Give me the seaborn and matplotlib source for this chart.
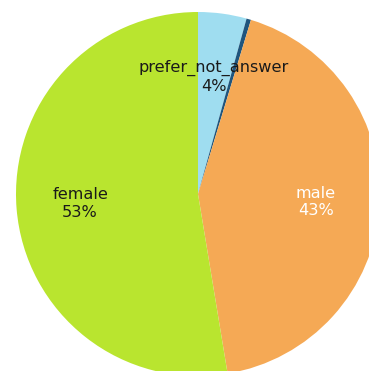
import matplotlib
matplotlib.use("Agg")
import matplotlib.pyplot as plt
import seaborn as sns

# Gender breakdown of respondents
categories = ["prefer_not_answer", "other", "male", "female"]
shares = [4.3, 0.4, 42.7, 52.6]
shown_labels = ["prefer_not_answer", "", "male", "female"]
label_colors = ["#1a1a1a", "#1a1a1a", "#ffffff", "#1a1a1a"]

sns.set_style("white")
palette = ["#9FDDF0", "#1F557D", "#F5A955", "#B9E52F"]

fig = plt.figure(figsize=(3.69, 3.71), dpi=100)
ax = fig.add_axes([16 / 369, -5 / 371, 364 / 369, 364 / 371])

total = sum(shares)
texts_in = [f"{lab}\n{round(v / total * 100):d}%" if lab else ""
            for lab, v in zip(shown_labels, shares)]

wedges, texts = ax.pie(
    shares,
    labels=texts_in,
    colors=palette,
    startangle=90,
    counterclock=False,
    labeldistance=0.65,
    radius=1.0,
    wedgeprops=dict(linewidth=0),
    textprops=dict(fontsize=11.6, family="DejaVu Sans"),
)
for t, c in zip(texts, label_colors):
    t.set_ha("center")
    t.set_va("center")
    t.set_multialignment("center")
    t.set_color(c)
    t.set_linespacing(1.2)

ax.set_xlim(-1, 1)
ax.set_ylim(-1, 1)
ax.set_aspect("equal")
ax.axis("off")

fig.savefig("out.png", dpi=100)
